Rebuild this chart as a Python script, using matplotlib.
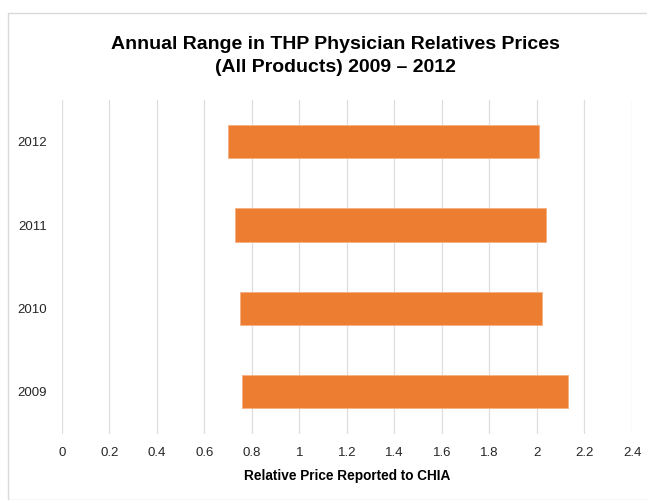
import matplotlib
matplotlib.use("Agg")
import matplotlib.pyplot as plt
from matplotlib.patches import Rectangle
from matplotlib import font_manager

years = ["2009", "2010", "2011", "2012"]
low = [0.76, 0.75, 0.73, 0.70]
high = [2.13, 2.02, 2.04, 2.01]
xticks = [0, 0.2, 0.4, 0.6, 0.8, 1, 1.2, 1.4, 1.6, 1.8, 2, 2.2, 2.4]
xtick_labels = ["0", "0.2", "0.4", "0.6", "0.8", "1", "1.2", "1.4", "1.6", "1.8", "2", "2.2", "2.4"]

names = {f.name for f in font_manager.fontManager.ttflist}
fam = "Liberation Sans Narrow" if "Liberation Sans Narrow" in names else "Liberation Sans"
plt.rcParams['font.family'] = [fam, 'DejaVu Sans']

fig = plt.figure(figsize=(6.47, 5.0), dpi=100)
fig.patches.append(Rectangle((7.5/647, 0), 1.2, (500-12.5)/500, transform=fig.transFigure,
                             fill=False, edgecolor="#d9d9d9", linewidth=1))
ax = fig.add_axes([61.7/647, (500-433.5)/500, (632-61.7)/647, (433.5-100)/500])

ypos = list(range(len(years)))
widths = [h - l for h, l in zip(high, low)]
ax.barh(ypos, widths, left=low, height=0.4, color="#ED7D31", edgecolor="#F4B183", linewidth=0.6, zorder=3)

ax.set_xlim(0, 2.4)
ax.set_ylim(-0.5, 3.5)
ax.set_xticks(xticks)
ax.set_xticklabels(xtick_labels, fontsize=9.5, color="#262626")
ax.set_yticks(ypos)
ax.set_yticklabels(years, fontsize=9.5, color="#262626")
ax.tick_params(axis="both", length=0)
ax.tick_params(axis="x", pad=10)
ax.tick_params(axis="y", pad=10.5)
ax.grid(axis="x", color="#dedede", linewidth=0.9, zorder=0)
ax.set_axisbelow(True)
for s in ax.spines.values():
    s.set_visible(False)

ax.set_xlabel("Relative Price Reported to CHIA", fontsize=9.8, fontweight="bold", color="#000000", labelpad=7)
fig.text(335/647, 1 - 56/500, "Annual Range in THP Physician Relatives Prices\n(All Products) 2009 \u2013 2012",
         ha="center", va="center", fontsize=14, fontweight="bold", color="#000000", linespacing=1.45)

fig.savefig("out.png", dpi=100)
